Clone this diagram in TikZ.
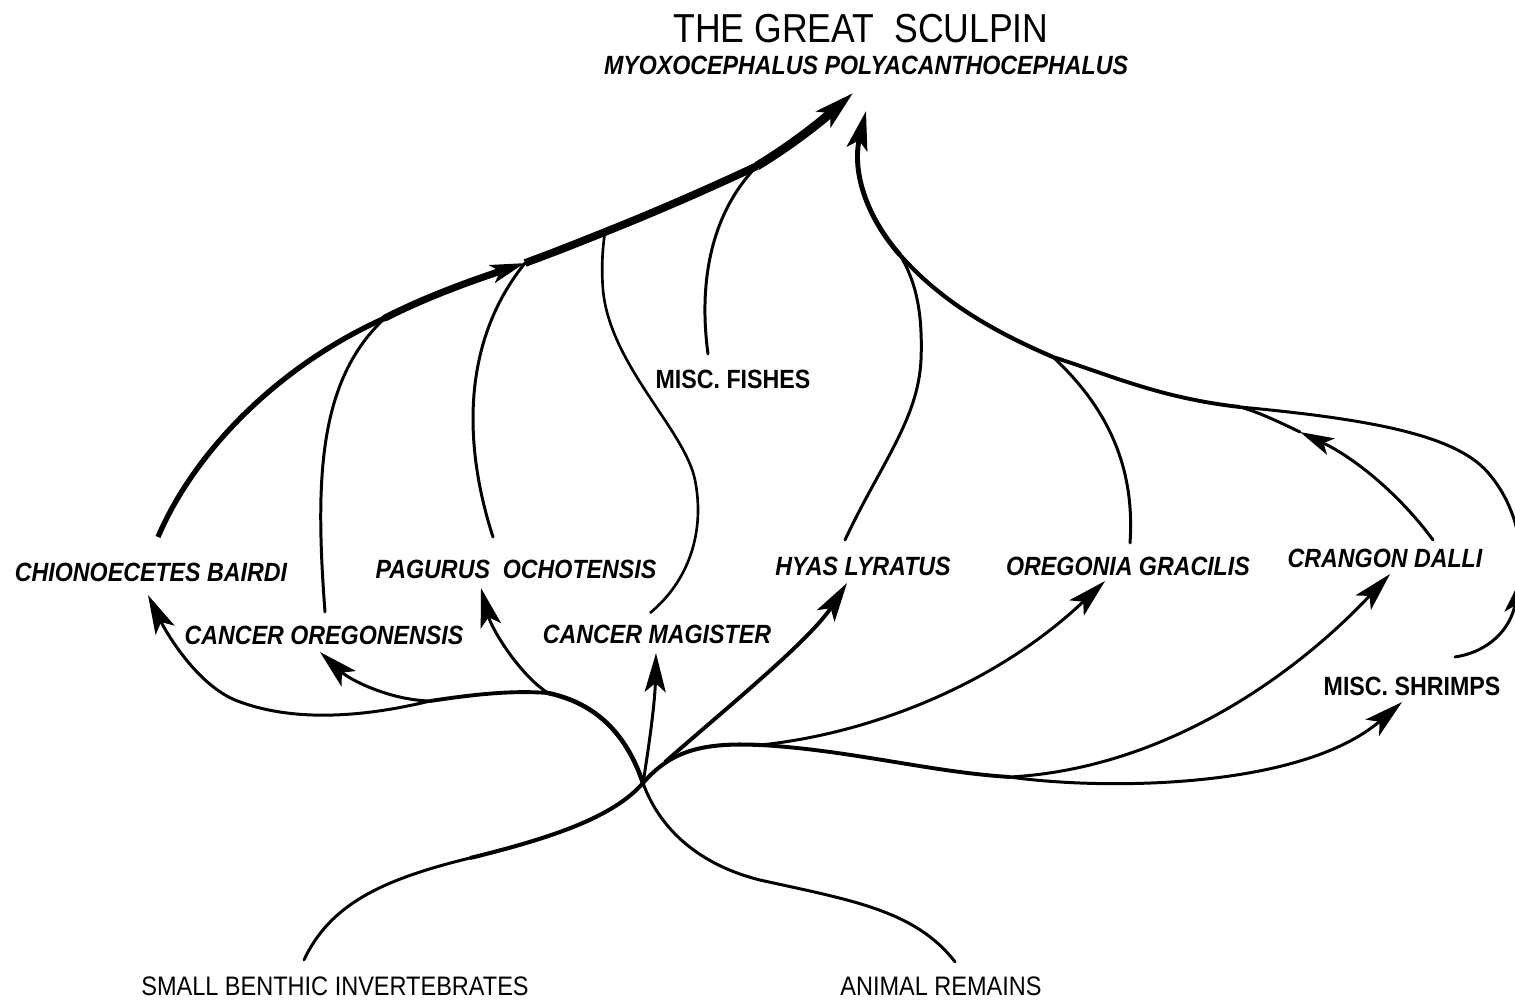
\documentclass[tikz,border=0pt]{standalone}
\usepackage{fontspec}
\setmainfont{Liberation Sans}[FakeStretch=0.88]
\usetikzlibrary{arrows.meta,calc}

\begin{document}
\begin{tikzpicture}[x=0.01cm, y=-0.01cm,
prey/.style={font=\fontsize{7.5}{9}\selectfont\bfseries\itshape, inner sep=0},
group/.style={font=\fontsize{7.5}{9}\selectfont\bfseries, inner sep=0},
source/.style={font=\fontsize{7.6}{9}\selectfont, inner sep=0},
feed/.style={line width=0.85pt, line cap=round},
feedmid/.style={line width=1.3pt, line cap=round},
trunk/.style={line width=2pt, line cap=round},
arr/.style={-{Stealth[length=3.9mm, width=2.1mm, inset=0.9mm]}},
arrsmall/.style={-{Stealth[length=3.4mm, width=1.8mm, inset=0.8mm]}}
]
\useasboundingbox (0,0) rectangle (1515,999);

%Nodes
\node[inner sep=0] (title)   at (861,29)   {\fontsize{11.5}{13}\selectfont THE GREAT\ \ SCULPIN};
\node[prey]        (sculpin) at (866,65)   {MYOXOCEPHALUS POLYACANTHOCEPHALUS};
\node[prey]        (chion)   at (151,572)  {CHIONOECETES BAIRDI};
\node[prey]        (oreg)    at (324,635)  {CANCER OREGONENSIS};
\node[prey]        (pag)     at (516,569)  {PAGURUS\ \ OCHOTENSIS};
\node[prey]        (mag)     at (657,634)  {CANCER MAGISTER};
\node[prey]        (hyas)    at (863,566)  {HYAS LYRATUS};
\node[prey]        (oregon)  at (1128,566) {OREGONIA GRACILIS};
\node[prey]        (crangon) at (1385,558) {CRANGON DALLI};
\node[group]       (shrimps) at (1412,686) {MISC. SHRIMPS};
\node[group]       (fishes)  at (733,379)  {MISC. FISHES};
\node[source]      (benthic) at (335,986)  {SMALL BENTHIC INVERTEBRATES};
\node[source]      (remains) at (941,986)  {ANIMAL REMAINS};

%Junctions
\coordinate (cross)      at (643,783);
\coordinate (hfork)      at (665,762);
\coordinate (rfork)      at (760,745);
\coordinate (sfork)      at (1010,777);
\coordinate (pfork)      at (548,693);
\coordinate (cfork)      at (430,701);
\coordinate (j-oreg)     at (385,318);
\coordinate (j-pag)      at (525,263);
\coordinate (j-mag)      at (605,232);
\coordinate (j-fish)     at (757,166);
\coordinate (j-top)      at (900,255);
\coordinate (j-gracilis) at (1053,357);
\coordinate (j-crangon)  at (1240,407);
\coordinate (crangon-in) at (1300,432);
\coordinate (shrimp-in)  at (1520,580);

%Lines, food sources to prey
\draw[feed] ($(benthic.north)+(-31,-16)$) .. controls (330,905) and (380,880) .. (470,858);
\draw[line width=1.15pt] (470,858) .. controls (560,836) and (615,815) .. (cross)
  .. controls (670,752) and (700,742) .. (rfork);
\draw[feed] ($(remains.north)+(14,-14)$) .. controls (915,910) and (850,900) .. (760,880)
  .. controls (700,865) and (660,830) .. (cross);
\draw[feedmid] (cross) .. controls (630,745) and (605,705) .. (pfork);
\draw[line width=1.1pt] (pfork) .. controls (510,690) and (470,695) .. (cfork);
\draw[feed, arr] (pfork) .. controls (520,675) and (492,630) .. ($(pag.south)+(-35,9)$);
\draw[feed, arr] (cfork) .. controls (390,700) and (350,680) .. ($(oreg.south)+(-4,7)$);
\draw[feed, arr] (cfork) .. controls (360,718) and (290,722) .. (235,700)
  .. controls (195,683) and (165,630) .. ($(chion.south)+(-3,13)$);
\draw[feed, arr] (cross) .. controls (650,740) and (655,700) .. ($(mag.south)+(-1,9)$);
\draw[line width=1.1pt, arr] (hfork) .. controls (730,705) and (810,640) .. ($(hyas.south)+(-16,7)$);
\draw[line width=1.1pt] (rfork) .. controls (850,750) and (930,772) .. (sfork);
\draw[feed, arr] (rfork) .. controls (860,735) and (990,690) .. ($(oregon.south)+(-23,5)$);
\draw[feed, arr] (sfork) .. controls (1170,768) and (1300,670) .. ($(crangon.south)+(5,6)$);
\draw[feed, arr] (sfork) .. controls (1100,790) and (1300,790) .. ($(shrimps.south)+(-10,6)$);

%Lines, prey to the sculpin
\draw[line width=1.5pt] ($(chion.north)+(7,-25)$) .. controls (195,450) and (280,365) .. (j-oreg);
\draw[trunk, arrsmall] (j-oreg) .. controls (430,295) and (480,278) .. (j-pag);
\draw[line width=2.2pt] (j-pag) .. controls (555,252) and (580,242) .. (j-mag)
  .. controls (660,210) and (710,188) .. (j-fish);
\draw[line width=2.5pt, arr] (j-fish) .. controls (795,143) and (825,118) .. ($(sculpin.south)+(-13,18)$);
\draw[feed] ($(oreg.north)+(1,-13)$) .. controls (315,480) and (318,380) .. (j-oreg);
\draw[feed] ($(pag.north)+(-23,-22)$) .. controls (468,460) and (455,350) .. (j-pag);
\draw[line width=0.75pt] ($(mag.north)+(-7,-11)$) .. controls (690,580) and (705,530) .. (695,480)
  .. controls (685,430) and (610,365) .. (603,290) .. controls (601,265) and (603,245) .. (j-mag);
\draw[feed] ($(fishes.north)+(-25,-15)$) .. controls (698,280) and (712,212) .. (j-fish);
\draw[feed] ($(hyas.north)+(-18,-16)$) .. controls (880,465) and (918,420) .. (921,360)
  .. controls (923,310) and (915,280) .. (j-top);
\draw[feed] ($(oregon.north)+(2,-13)$) .. controls (1135,470) and (1110,410) .. (j-gracilis);
\draw[feed, arrsmall] ($(crangon.north)+(48,-8)$) .. controls (1400,495) and (1355,458) .. (crangon-in);
\draw[feed] (crangon-in) .. controls (1275,420) and (1258,412) .. (j-crangon);
\draw[feed, arrsmall] ($(shrimps.north)+(43,-19)$) .. controls (1488,652) and (1510,630) .. (shrimp-in);
\draw[feed] (shrimp-in) .. controls (1524,545) and (1515,505) .. (1490,475)
  .. controls (1460,437) and (1380,420) .. (j-crangon);
\draw[line width=1.1pt] (j-crangon) .. controls (1160,398) and (1110,375) .. (j-gracilis);
\draw[line width=1.2pt] (j-gracilis) .. controls (990,330) and (940,300) .. (j-top);
\draw[line width=1.4pt, arr] (j-top) .. controls (865,215) and (852,170) .. ($(sculpin.south)+(0,36)$);
\end{tikzpicture}
\end{document}
